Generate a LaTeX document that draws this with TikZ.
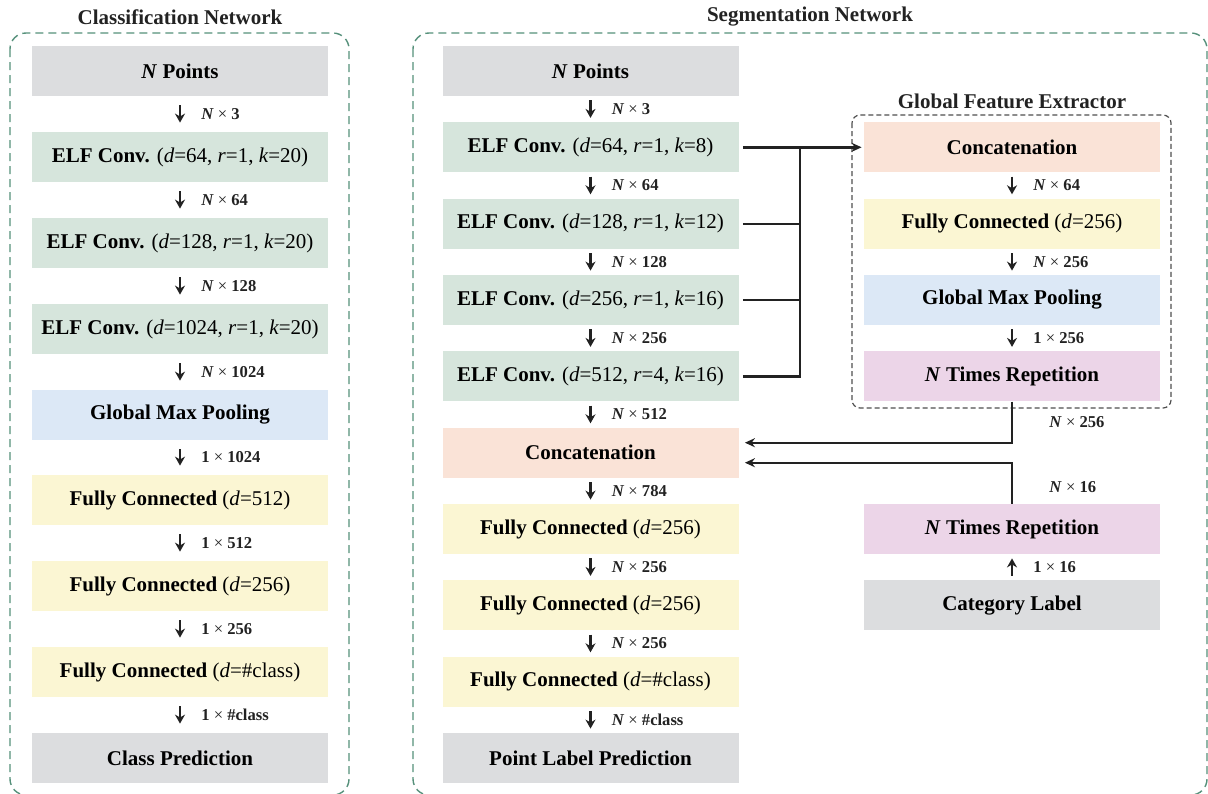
\documentclass[tikz,border=0pt]{standalone}
\usepackage{fontspec}
\setmainfont{Liberation Serif}
\usetikzlibrary{arrows.meta}

\definecolor{inputgray}{HTML}{DCDDDF}
\definecolor{convgreen}{HTML}{D6E5DC}
\definecolor{poolblue}{HTML}{DCE8F6}
\definecolor{fcyellow}{HTML}{FBF6D3}
\definecolor{catpeach}{HTML}{FAE3D7}
\definecolor{reppink}{HTML}{ECD5E8}
\definecolor{framegreen}{HTML}{55907A}
\definecolor{inkdark}{HTML}{222222}

\newcommand{\elfconv}[3]{\textbf{ELF Conv.} (\textit{d}=#1, \textit{r}=#2, \textit{k}=#3)}
\newcommand{\fcl}[1]{\textbf{Fully Connected} (\textit{d}=#1)}

\tikzset{
  blk/.style={minimum width=148pt, minimum height=25pt, inner sep=0pt,
    font=\fontsize{10.5}{12}\selectfont},
  ingray/.style={blk, fill=inputgray},
  conv/.style={blk, fill=convgreen},
  pool/.style={blk, fill=poolblue},
  fc/.style={blk, fill=fcyellow},
  cat/.style={blk, fill=catpeach},
  rep/.style={blk, fill=reppink},
  dim/.style={anchor=west, inner sep=0pt, xshift=10pt, text=inkdark,
    font=\fontsize{8.3}{10}\selectfont},
  ttl/.style={font=\fontsize{10.5}{12}\selectfont\bfseries, text=inkdark},
  flowc/.style={draw=inkdark, line width=1.3pt, -{Stealth[length=4.5pt,width=5pt]},
    shorten <=4.5pt, shorten >=4.5pt},
  flows/.style={draw=inkdark, line width=1.3pt, -{Stealth[length=4.5pt,width=5pt]},
    shorten <=2pt, shorten >=2pt},
  wire/.style={draw=inkdark, line width=1.2pt},
  feed/.style={wire, -{Stealth[length=5pt,width=4.5pt]}},
  netframe/.style={draw=framegreen, line width=0.7pt, dash pattern=on 4pt off 2.5pt,
    rounded corners=8pt},
  gfeframe/.style={draw=inkdark!80, line width=0.6pt, dash pattern=on 2.5pt off 1.5pt,
    rounded corners=4pt}
}

\begin{document}
\begin{tikzpicture}[x=0.5pt,y=-0.5pt]
  \useasboundingbox (0,0) rectangle (1208,793);

  % frames and titles
  \draw[netframe] (10,33) rectangle (349,795);
  \draw[netframe] (413,33) rectangle (1207,795);
  \draw[gfeframe] (852,115) rectangle (1171,408);
  \node[ttl] (tclass) at (180,17) {Classification Network};
  \node[ttl] (tseg) at (810,17) {Segmentation Network};
  \node[ttl] (tgfe) at (1012,101) {Global Feature Extractor};

  % classification network
  \node[ingray] (c1) at (180,71) {\textbf{\textit{N} Points}};
  \node[conv] (c2) at (180,157) {\elfconv{64}{1}{20}};
  \node[conv] (c3) at (180,243) {\elfconv{128}{1}{20}};
  \node[conv] (c4) at (180,329) {\elfconv{1024}{1}{20}};
  \node[pool] (c5) at (180,415) {\textbf{Global Max Pooling}};
  \node[fc] (c6) at (180,500) {\fcl{512}};
  \node[fc] (c7) at (180,586) {\fcl{256}};
  \node[fc] (c8) at (180,672) {\fcl{\#class}};
  \node[ingray] (c9) at (180,758) {\textbf{Class Prediction}};

  \draw[flowc] (c1) -- node[dim]{\textbf{\textit{N}} × \textbf{3}} (c2);
  \draw[flowc] (c2) -- node[dim]{\textbf{\textit{N}} × \textbf{64}} (c3);
  \draw[flowc] (c3) -- node[dim]{\textbf{\textit{N}} × \textbf{128}} (c4);
  \draw[flowc] (c4) -- node[dim]{\textbf{\textit{N}} × \textbf{1024}} (c5);
  \draw[flowc] (c5) -- node[dim]{\textbf{1} × \textbf{1024}} (c6);
  \draw[flowc] (c6) -- node[dim]{\textbf{1} × \textbf{512}} (c7);
  \draw[flowc] (c7) -- node[dim]{\textbf{1} × \textbf{256}} (c8);
  \draw[flowc] (c8) -- node[dim]{\textbf{1} × \textbf{\#class}} (c9);

  % segmentation network
  \node[ingray] (s1) at (590.5,71) {\textbf{\textit{N} Points}};
  \node[conv] (s2) at (590.5,147.3) {\elfconv{64}{1}{8}};
  \node[conv] (s3) at (590.5,223.7) {\elfconv{128}{1}{12}};
  \node[conv] (s4) at (590.5,300) {\elfconv{256}{1}{16}};
  \node[conv] (s5) at (590.5,376.3) {\elfconv{512}{4}{16}};
  \node[cat] (s6) at (590.5,452.7) {\textbf{Concatenation}};
  \node[fc] (s7) at (590.5,529) {\fcl{256}};
  \node[fc] (s8) at (590.5,605.3) {\fcl{256}};
  \node[fc] (s9) at (590.5,681.7) {\fcl{\#class}};
  \node[ingray] (s10) at (590.5,758) {\textbf{Point Label Prediction}};

  \draw[flows] (s1) -- node[dim]{\textbf{\textit{N}} × \textbf{3}} (s2);
  \draw[flows] (s2) -- node[dim]{\textbf{\textit{N}} × \textbf{64}} (s3);
  \draw[flows] (s3) -- node[dim]{\textbf{\textit{N}} × \textbf{128}} (s4);
  \draw[flows] (s4) -- node[dim]{\textbf{\textit{N}} × \textbf{256}} (s5);
  \draw[flows] (s5) -- node[dim]{\textbf{\textit{N}} × \textbf{512}} (s6);
  \draw[flows] (s6) -- node[dim]{\textbf{\textit{N}} × \textbf{784}} (s7);
  \draw[flows] (s7) -- node[dim]{\textbf{\textit{N}} × \textbf{256}} (s8);
  \draw[flows] (s8) -- node[dim]{\textbf{\textit{N}} × \textbf{256}} (s9);
  \draw[flows] (s9) -- node[dim]{\textbf{\textit{N}} × \textbf{\#class}} (s10);

  % global feature extractor
  \node[cat] (g1) at (1012,147.3) {\textbf{Concatenation}};
  \node[fc] (g2) at (1012,223.7) {\fcl{256}};
  \node[pool] (g3) at (1012,300) {\textbf{Global Max Pooling}};
  \node[rep] (g4) at (1012,376.3) {\textbf{\textit{N} Times Repetition}};

  \draw[flows] (g1) -- node[dim]{\textbf{\textit{N}} × \textbf{64}} (g2);
  \draw[flows] (g2) -- node[dim]{\textbf{\textit{N}} × \textbf{256}} (g3);
  \draw[flows] (g3) -- node[dim]{\textbf{1} × \textbf{256}} (g4);

  % category branch
  \node[rep] (r1) at (1012,529) {\textbf{\textit{N} Times Repetition}};
  \node[ingray] (r2) at (1012,605.3) {\textbf{Category Label}};
  \draw[flows] (r2) -- node[dim]{\textbf{1} × \textbf{16}} (r1);

  % skip connections into the extractor
  \coordinate (bus) at (800,147.3);
  \draw[wire, shorten <=2pt] (s5.east) -| (bus);
  \draw[wire, shorten <=2pt] (s4.east) -- (s4.east -| bus);
  \draw[wire, shorten <=2pt] (s3.east) -- (s3.east -| bus);
  \draw[feed, shorten <=2pt, shorten >=1pt] (s2.east) -- (g1.west);

  % back into the concatenation
  \draw[feed, shorten >=3pt] (g4.south) |- ([yshift=5pt]s6.east);
  \draw[feed, shorten >=3pt] (r1.north) |- ([yshift=-5pt]s6.east);
  \node[dim, xshift=0pt] (lg) at (1029,422) {\textbf{\textit{N}} × \textbf{256}};
  \node[dim, xshift=0pt] (lr) at (1029,487) {\textbf{\textit{N}} × \textbf{16}};
\end{tikzpicture}
\end{document}
